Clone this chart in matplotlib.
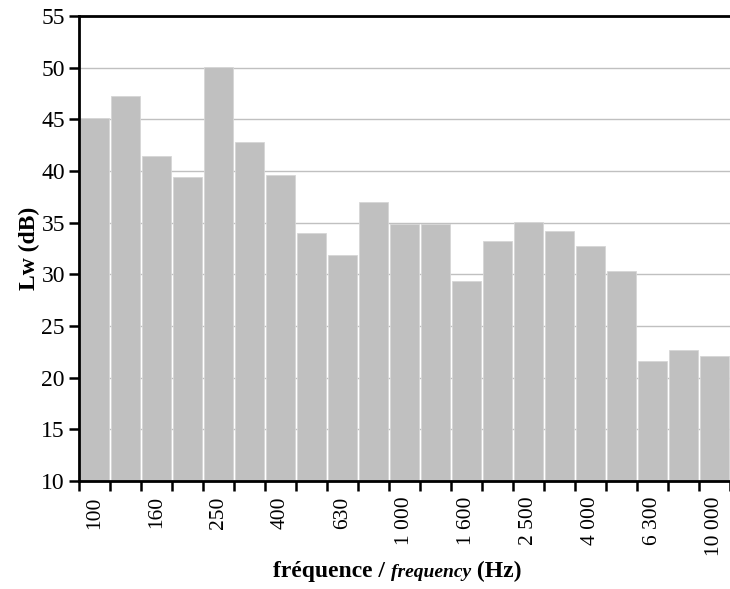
import numpy as np
import matplotlib
matplotlib.use('Agg')
from matplotlib import pyplot as plt

# bandes de tiers d'octave
freq_bands = ['100', '125', '160', '200', '250', '315', '400', '500', '630', '800',
              '1 000', '1 250', '1 600', '2 000', '2 500', '3 150', '4 000', '5 000',
              '6 300', '8 000', '10 000']
lw_db = [45.1, 47.3, 41.5, 39.4, 50.1, 42.8, 39.6, 34.0, 31.9, 37.0,
         34.9, 34.9, 29.4, 33.2, 35.1, 34.2, 32.7, 30.3, 21.6, 22.7, 22.1]
y_ticks = [10, 15, 20, 25, 30, 35, 40, 45, 50, 55]

plt.rcParams['font.family'] = ['Liberation Serif', 'DejaVu Serif']

fig = plt.figure(figsize=(7.3, 5.89), dpi=100)
ax = fig.add_axes([0.108, 0.1834, 0.892, 0.7894])

x = np.arange(len(freq_bands))
ax.bar(x, lw_db, width=0.94, bottom=0, color='#c0c0c0', edgecolor='#d6d6d6',
       linewidth=0.6, zorder=2)

ax.set_xlim(-0.5, len(freq_bands) - 0.5)
ax.set_ylim(10, 55)
ax.set_yticks(y_ticks)
ax.yaxis.grid(True, color='#c0c0c0', linewidth=1.0, zorder=0)
ax.set_axisbelow(True)

# labels une bande sur deux, traits aux limites des bandes
ax.set_xticks(x[::2])
ax.set_xticklabels(freq_bands[::2], rotation=90, fontsize=15.5)
ax.set_xticks(np.arange(-0.5, len(freq_bands)), minor=True)
ax.tick_params(axis='x', which='major', length=0, pad=11)
ax.tick_params(axis='x', which='minor', length=7, width=1.8, direction='out')
ax.tick_params(axis='y', length=7, width=1.8, pad=3, labelsize=17)

for s in ['left', 'bottom', 'top']:
    ax.spines[s].set_linewidth(2.0)
    ax.spines[s].set_color('black')
ax.spines['right'].set_visible(False)

ax.set_ylabel('Lw (dB)', fontsize=17, fontweight='bold', labelpad=1)

# titre de l'axe x en trois morceaux (gras / gras italique / gras), meme ligne de base
renderer = fig.canvas.get_renderer()
base_y = 0.02
t1 = fig.text(0.374, base_y, 'fréquence / ', fontsize=17, fontweight='bold',
              ha='left', va='baseline')
x1 = fig.transFigure.inverted().transform(t1.get_window_extent(renderer).p1)[0]
t2 = fig.text(x1, base_y, 'frequency', fontsize=14, fontweight='bold',
              fontstyle='italic', ha='left', va='baseline')
x2 = fig.transFigure.inverted().transform(t2.get_window_extent(renderer).p1)[0]
t3 = fig.text(x2, base_y, ' (Hz)', fontsize=17, fontweight='bold',
              ha='left', va='baseline')

plt.savefig('out.png', dpi=100)
